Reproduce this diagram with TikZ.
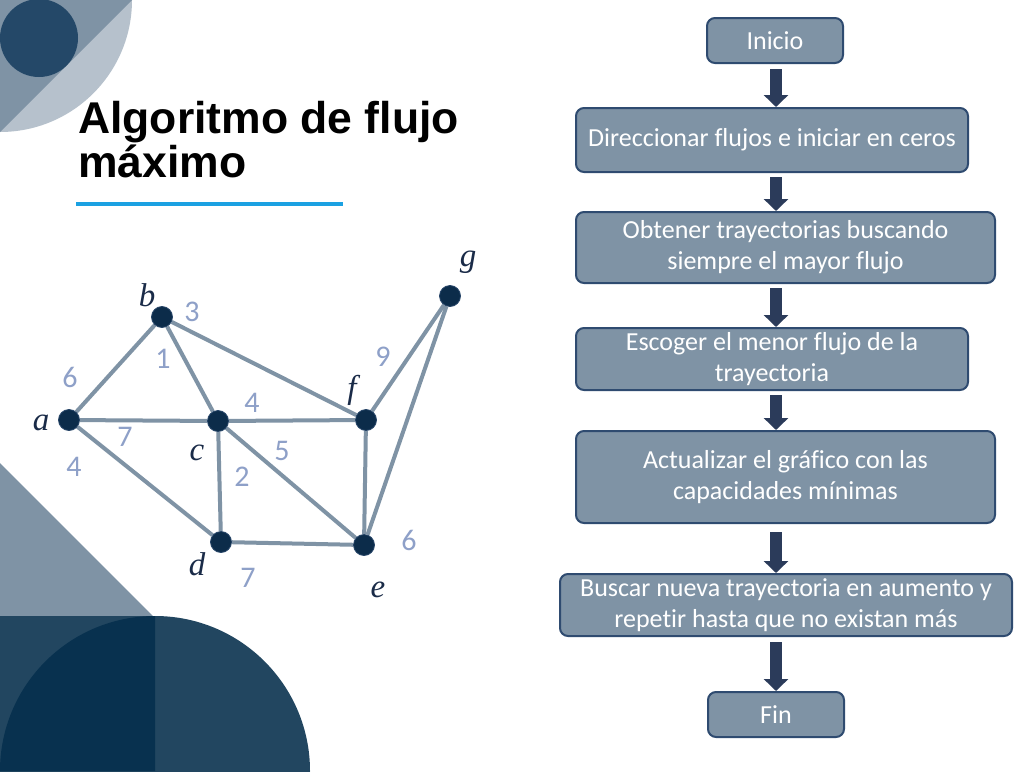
\documentclass[tikz,border=0pt]{standalone}
\usepackage{fontspec}
\setmainfont{Carlito}[Ligatures=NoCommon]
\newfontfamily\titlefont{Liberation Sans}
\newfontfamily\labfont{Liberation Serif}
\usetikzlibrary{arrows.meta,calc}
\definecolor{slate}{RGB}{127,147,165}
\definecolor{lightslate}{RGB}{182,193,204}
\definecolor{navycirc}{RGB}{36,72,104}
\definecolor{darkteal}{RGB}{34,70,96}
\definecolor{darkest}{RGB}{8,49,79}
\definecolor{nodefill}{RGB}{12,44,74}
\definecolor{nodeborder}{RGB}{40,70,105}
\definecolor{boxborder}{RGB}{47,75,112}
\definecolor{arrowfill}{RGB}{43,59,90}
\definecolor{wlabel}{RGB}{142,160,200}
\definecolor{vlabel}{RGB}{26,43,72}
\definecolor{titleline}{RGB}{27,161,226}
\pgfdeclarelayer{deco}
\pgfdeclarelayer{edges}
\pgfsetlayers{deco,edges,main}
\tikzset{
  vert/.style={circle, fill=nodefill, draw=nodeborder, line width=0.8pt, minimum size=21pt, inner sep=0pt},
  edge/.style={draw=slate, line width=4pt},
  wlab/.style={text=wlabel, inner sep=0pt, font=\fontsize{30}{30}\selectfont},
  vlab/.style={text=vlabel, inner sep=0pt, font=\labfont\itshape\fontsize{33}{33}\selectfont},
  fbox/.style={rectangle, rounded corners=8pt, fill=slate, draw=boxborder, line width=2pt,
    text=white, align=center, inner sep=0pt, font=\fontsize{26}{31}\selectfont},
  blockarrow/.style={draw=arrowfill, line width=12pt, -{Triangle[width=24pt,length=12pt]}}
}
\begin{document}
\begin{tikzpicture}[x=1pt,y=-1pt]
\useasboundingbox (0,0) rectangle (1028,771);
\begin{pgfonlayer}{deco}
\fill[white] (0,0) rectangle (1028,771);
\begin{scope}
\clip (0,0) rectangle (1028,771);
% top-left decoration
\fill[lightslate] (0,0) circle (132);
\fill[slate] (0,0) -- (132,0) -- (0,132) -- cycle;
\fill[navycirc] (39,38) circle (39);
% bottom-left decoration
\fill[slate] (0,463) -- (154,617) -- (0,617) -- cycle;
\fill[darkteal] (0,616) rectangle (155,771);
\fill[darkteal] (155,771) circle (155);
\fill[darkest] (155,771) -- (0,771) arc[start angle=180, end angle=270, radius=155] -- cycle;
\end{scope}
% title underline
\fill[titleline] (76,202) rectangle (343,206);
\end{pgfonlayer}

% title
\node[anchor=base west, inner sep=0pt, align=left, font=\titlefont\bfseries\fontsize{44.5}{44}\selectfont] (title) at (78,177) {Algoritmo de flujo\\máximo};

% graph vertices
\node[vert] (a) at (69,420) {};
\node[vert] (b) at (162,317) {};
\node[vert] (c) at (218,421) {};
\node[vert] (d) at (221,542) {};
\node[vert] (e) at (364,545) {};
\node[vert] (f) at (366,420) {};
\node[vert] (g) at (450,296) {};

\begin{pgfonlayer}{edges}
\draw[edge] (a) -- (b);
\draw[edge] (a) -- (c);
\draw[edge] (a) -- (d);
\draw[edge] (b) -- (c);
\draw[edge] (b) -- (f);
\draw[edge] (c) -- (f);
\draw[edge] (c) -- (d);
\draw[edge] (c) -- (e);
\draw[edge] (d) -- (e);
\draw[edge] (f) -- (e);
\draw[edge] (f) -- (g);
\draw[edge] (g) -- (e);
\end{pgfonlayer}

% vertex labels
\node[vlab] (la) at (41,423) {a};
\node[vlab] (lb) at (147,295) {b};
\node[vlab] (lc) at (197,453) {c};
\node[vlab] (ld) at (197,564) {d};
\node[vlab] (le) at (378,590) {e};
\node[vlab] (lf) at (352,390) {f};
\node[vlab] (lg) at (468,262) {g};

% weights
\node[wlab] (w3) at (192,312) {3};
\node[wlab] (w6a) at (70,377) {6};
\node[wlab] (w1) at (163,359) {1};
\node[wlab] (w9) at (383,357) {9};
\node[wlab] (w4cf) at (252,403) {4};
\node[wlab] (w7ac) at (125,437) {7};
\node[wlab] (w4ad) at (74,467) {4};
\node[wlab] (w5) at (282,451) {5};
\node[wlab] (w2) at (242,477) {2};
\node[wlab] (w6e) at (409,540) {6};
\node[wlab] (w7de) at (248,578) {7};

% flowchart
\coordinate (ax) at (776,0);
\node[fbox, minimum width=136pt, minimum height=45pt] (s1) at (775,40.5) {Inicio};
\node[fbox, minimum width=392pt, minimum height=64pt] (s2) at (772,140) {Direccionar flujos e iniciar en ceros};
\node[fbox, minimum width=419pt, minimum height=71pt] (s3) at (785.5,247.5) {Obtener trayectorias buscando\\siempre el mayor flujo};
\node[fbox, minimum width=392pt, minimum height=62pt] (s4) at (772,359) {Escoger el menor flujo de la\\trayectoria};
\node[fbox, minimum width=419pt, minimum height=92pt] (s5) at (785.5,477) {Actualizar el gráfico con las\\capacidades mínimas};
\node[fbox, minimum width=452pt, minimum height=62pt] (s6) at (786,605) {Buscar nueva trayectoria en aumento y\\repetir hasta que no existan más};
\node[fbox, minimum width=136pt, minimum height=45pt] (s7) at (776,714.5) {Fin};

\draw[blockarrow] ([yshift=-5pt]s1.south -| ax) -- (s2.north -| ax);
\draw[blockarrow] ([yshift=-4pt]s2.south -| ax) -- (s3.north -| ax);
\draw[blockarrow] ([yshift=-4pt]s3.south -| ax) -- (s4.north -| ax);
\draw[blockarrow] ([yshift=-4pt]s4.south -| ax) -- (s5.north -| ax);
\draw[blockarrow] ([yshift=-8pt]s5.south -| ax) -- (s6.north -| ax);
\draw[blockarrow] ([yshift=-5pt]s6.south -| ax) -- (s7.north -| ax);
\end{tikzpicture}
\end{document}
